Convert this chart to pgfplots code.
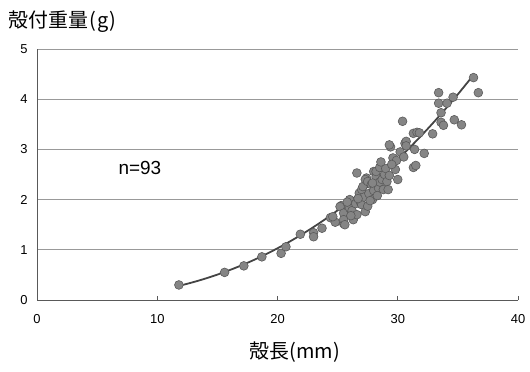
\documentclass[border=0pt]{standalone}
\usepackage{fontspec}
\setmainfont{Liberation Sans}
\newfontfamily\cjk{Noto Sans CJK JP}
\usepackage{pgfplots}
\pgfplotsset{compat=1.18}
\definecolor{ptfill}{HTML}{858585}
\definecolor{ptedge}{HTML}{5A5A5A}
\definecolor{trend}{HTML}{444444}
\begin{document}
\begin{tikzpicture}[x=1bp,y=1bp]
\path[use as bounding box] (0,0) rectangle (530,371);
\begin{axis}[
  at={(37bp,71bp)}, anchor=south west,
  scale only axis, width=481bp, height=251bp,
  xmin=0, xmax=40, ymin=0, ymax=5,
  axis x line*=bottom, axis y line*=left,
  axis line style={draw=black!65, line width=0.7pt, -},
  xtick={0,10,20,30,40}, ytick={0,1,2,3,4,5},
  tick align=inside,
  major tick length=4bp,
  ytick style={draw=none},
  xtick style={draw=black!65, line width=0.7pt},
  ymajorgrids, grid style={draw=black!40, line width=0.7pt},
  /pgf/number format/assume math mode=true,
  xticklabel style={font=\fontsize{13}{15}\selectfont, yshift=-11bp},
  yticklabel style={font=\fontsize{13}{15}\selectfont, xshift=-6bp},
  clip=false,
]
\addplot[only marks, mark=*, mark size=4.4bp,
  mark options={fill=ptfill, draw=ptedge, line width=0.6pt}] coordinates {
(11.8,0.30)(15.6,0.55)(17.2,0.68)(18.7,0.86)(20.3,0.93)(20.7,1.06)(21.9,1.31)
(23.0,1.34)(23.0,1.26)(23.7,1.43)(24.4,1.64)(24.8,1.55)(25.3,1.88)(25.5,1.52)
(24.6,1.66)(25.2,1.86)(25.5,1.73)(25.5,1.60)(25.6,1.50)(26.0,1.83)(26.0,2.00)
(26.3,1.60)(26.2,1.78)(26.5,1.92)(26.8,2.13)(26.6,1.70)(26.9,1.95)(27.0,1.90)
(27.0,2.20)(27.1,2.26)(27.3,1.76)(27.2,2.05)(27.4,2.43)(27.3,2.40)(27.5,2.36)
(27.5,1.87)(27.6,2.12)(27.8,2.30)(27.9,2.00)(28.0,2.56)(28.0,2.18)(28.2,2.45)
(28.2,2.56)(28.4,2.23)(28.5,2.64)(28.5,2.35)(28.7,2.40)(28.8,2.20)(28.9,2.50)
(29.1,2.36)(29.2,2.20)(29.0,2.62)(29.3,2.48)(26.6,2.53)(27.7,1.98)(26.1,1.68)
(25.8,1.95)(26.7,2.02)(27.9,2.33)(28.3,2.08)
(29.4,3.05)(29.3,3.09)(29.6,2.83)(29.9,2.78)(30.0,2.40)(30.4,3.56)(30.6,3.12)
(30.7,3.16)(30.7,3.07)(31.3,2.64)(31.5,2.68)(31.4,3.00)(31.3,3.32)(31.6,3.34)
(31.8,3.33)(32.2,2.92)(32.9,3.31)(33.4,4.13)(33.4,3.92)(33.6,3.73)(33.6,3.54)
(33.8,3.48)(34.1,3.92)(34.6,4.04)(34.7,3.59)(35.3,3.49)(36.3,4.43)(36.7,4.13)
(30.2,2.95)(29.8,2.60)(30.5,2.85)(28.6,2.75)(29.5,2.70)
};
\addplot[draw=trend, line width=1.8pt, smooth] coordinates {
(11.8,0.280)(13,0.356)(14,0.427)(15,0.506)(16,0.594)(17,0.689)(18,0.794)
(19,0.907)(20,1.030)(21,1.162)(22,1.303)(23,1.454)(24,1.615)(25,1.786)
(26,1.968)(27,2.160)(28,2.362)(29,2.576)(30,2.801)(31,3.037)(32,3.284)
(33,3.544)(34,3.815)(35,4.098)(36,4.393)(36.3,4.480)
};
\node[font=\fontsize{19}{21}\selectfont] at (axis cs:8.56,2.63) {n=93};
\end{axis}
\node[anchor=west, font=\cjk\fontsize{20}{22}\selectfont] at (5,349) {殻付重量\kern1.5bp(\kern1bp g\kern1bp)};
\node[font=\cjk\fontsize{20}{22}\selectfont] at (295,19) {殻長(mm)};
\end{tikzpicture}
\end{document}
